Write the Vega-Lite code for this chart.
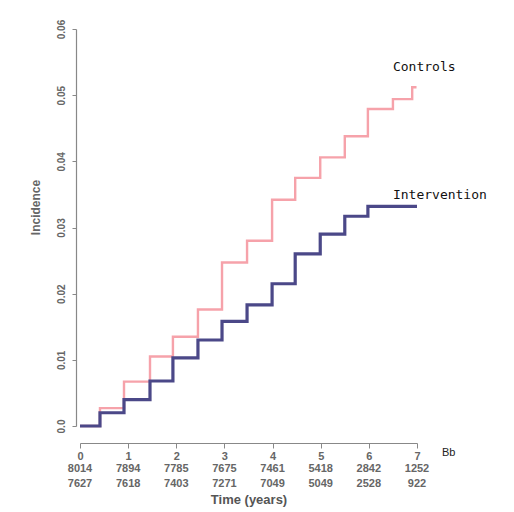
{
  "$schema": "https://vega.github.io/schema/vega-lite/v6.json",
  "autosize": {"type": "none"},
  "padding": {"left": 80, "top": 29, "right": 97, "bottom": 86},
  "width": 337,
  "height": 397,
  "background": "white",
  "config": {"view": {"stroke": null}, "font": "Liberation Sans"},
  "datasets": {
    "curves": [
      {"group": "Controls", "t": 0, "v": 0},
      {"group": "Controls", "t": 0.415, "v": 0.0027},
      {"group": "Controls", "t": 0.914, "v": 0.0067},
      {"group": "Controls", "t": 1.454, "v": 0.0105},
      {"group": "Controls", "t": 1.93, "v": 0.0135},
      {"group": "Controls", "t": 2.45, "v": 0.0176},
      {"group": "Controls", "t": 2.95, "v": 0.0247},
      {"group": "Controls", "t": 3.47, "v": 0.028},
      {"group": "Controls", "t": 3.99, "v": 0.0342},
      {"group": "Controls", "t": 4.47, "v": 0.0375},
      {"group": "Controls", "t": 4.99, "v": 0.0406},
      {"group": "Controls", "t": 5.5, "v": 0.0438},
      {"group": "Controls", "t": 5.98, "v": 0.0479},
      {"group": "Controls", "t": 6.5, "v": 0.0494},
      {"group": "Controls", "t": 6.9, "v": 0.0512},
      {"group": "Controls", "t": 6.99, "v": 0.0512},
      {"group": "Intervention", "t": 0, "v": 0},
      {"group": "Intervention", "t": 0.415, "v": 0.002},
      {"group": "Intervention", "t": 0.914, "v": 0.004},
      {"group": "Intervention", "t": 1.454, "v": 0.0068},
      {"group": "Intervention", "t": 1.93, "v": 0.0103},
      {"group": "Intervention", "t": 2.45, "v": 0.013},
      {"group": "Intervention", "t": 2.95, "v": 0.0158},
      {"group": "Intervention", "t": 3.47, "v": 0.0183},
      {"group": "Intervention", "t": 3.99, "v": 0.0215},
      {"group": "Intervention", "t": 4.47, "v": 0.026},
      {"group": "Intervention", "t": 4.99, "v": 0.029},
      {"group": "Intervention", "t": 5.5, "v": 0.0317},
      {"group": "Intervention", "t": 5.98, "v": 0.0332},
      {"group": "Intervention", "t": 7.0, "v": 0.0332}
    ],
    "labels": [
      {"t": 6.5, "v": 0.0543, "label": "Controls"},
      {"t": 6.5, "v": 0.0349, "label": "Intervention"}
    ],
    "risk": [
      {"t": 0, "controls": 8014, "intervention": 7627},
      {"t": 1, "controls": 7894, "intervention": 7618},
      {"t": 2, "controls": 7785, "intervention": 7403},
      {"t": 3, "controls": 7675, "intervention": 7271},
      {"t": 4, "controls": 7461, "intervention": 7049},
      {"t": 5, "controls": 5418, "intervention": 5049},
      {"t": 6, "controls": 2842, "intervention": 2528},
      {"t": 7, "controls": 1252, "intervention": 922}
    ],
    "panel": [{"t": 7.52, "label": "Bb"}]
  },
  "layer": [
    {
      "data": {"name": "curves"},
      "mark": {"type": "line", "interpolate": "step-after"},
      "encoding": {
        "x": {
          "field": "t", "type": "quantitative",
          "scale": {"domain": [0, 7], "nice": false},
          "axis": {
            "values": [0, 1, 2, 3, 4, 5, 6, 7],
            "offset": 17, "grid": false,
            "domainColor": "#888", "tickColor": "#888", "tickSize": 5, "domainWidth": 1.2,
            "labelPadding": 2, "labelFontSize": 11, "labelFontWeight": "bold", "labelColor": "#666", "labelFlush": false,
            "title": "Time (years)", "titleFontSize": 13, "titleFontWeight": "bold", "titleColor": "#555",
            "titleY": 50
          }
        },
        "y": {
          "field": "v", "type": "quantitative",
          "scale": {"domain": [0, 0.06], "nice": false},
          "axis": {
            "values": [0, 0.01, 0.02, 0.03, 0.04, 0.05, 0.06],
            "offset": 4, "grid": false,
            "domainColor": "#888", "tickColor": "#888", "tickSize": 4, "domainWidth": 1.2,
            "labelAngle": -90, "labelAlign": "center", "labelBaseline": "bottom",
            "labelPadding": 6, "labelFontSize": 10, "labelFontWeight": "bold", "labelColor": "#666", "labelFlush": false,
            "labelExpr": "datum.value == 0 ? '0.0' : format(datum.value, '.2f')",
            "title": "Incidence", "titleFontSize": 12, "titleFontWeight": "bold", "titleColor": "#666",
            "titleX": -34, "titleY": 178
          }
        },
        "color": {
          "field": "group", "type": "nominal",
          "scale": {"domain": ["Controls", "Intervention"], "range": ["#f6a2aa", "#4b4888"]},
          "legend": null
        },
        "strokeWidth": {
          "field": "group", "type": "nominal",
          "scale": {"domain": ["Controls", "Intervention"], "range": [2.4, 3.2]},
          "legend": null
        }
      }
    },
    {
      "data": {"name": "labels"},
      "mark": {"type": "text", "align": "left", "baseline": "middle", "font": "DejaVu Sans Mono", "fontSize": 13, "color": "#111"},
      "encoding": {
        "x": {"field": "t", "type": "quantitative"},
        "y": {"field": "v", "type": "quantitative"},
        "text": {"field": "label"}
      }
    },
    {
      "data": {"name": "risk"},
      "mark": {"type": "text", "align": "center", "baseline": "middle", "fontSize": 11, "fontWeight": "bold", "color": "#666", "dy": 43},
      "encoding": {
        "x": {"field": "t", "type": "quantitative"},
        "y": {"value": "height"},
        "text": {"field": "controls"}
      }
    },
    {
      "data": {"name": "risk"},
      "mark": {"type": "text", "align": "center", "baseline": "middle", "fontSize": 11, "fontWeight": "bold", "color": "#666", "dy": 58},
      "encoding": {
        "x": {"field": "t", "type": "quantitative"},
        "y": {"value": "height"},
        "text": {"field": "intervention"}
      }
    },
    {
      "data": {"name": "panel"},
      "mark": {"type": "text", "align": "left", "baseline": "middle", "fontSize": 11, "color": "#222", "dy": 27},
      "encoding": {
        "x": {"field": "t", "type": "quantitative"},
        "y": {"value": "height"},
        "text": {"field": "label"}
      }
    }
  ]
}
